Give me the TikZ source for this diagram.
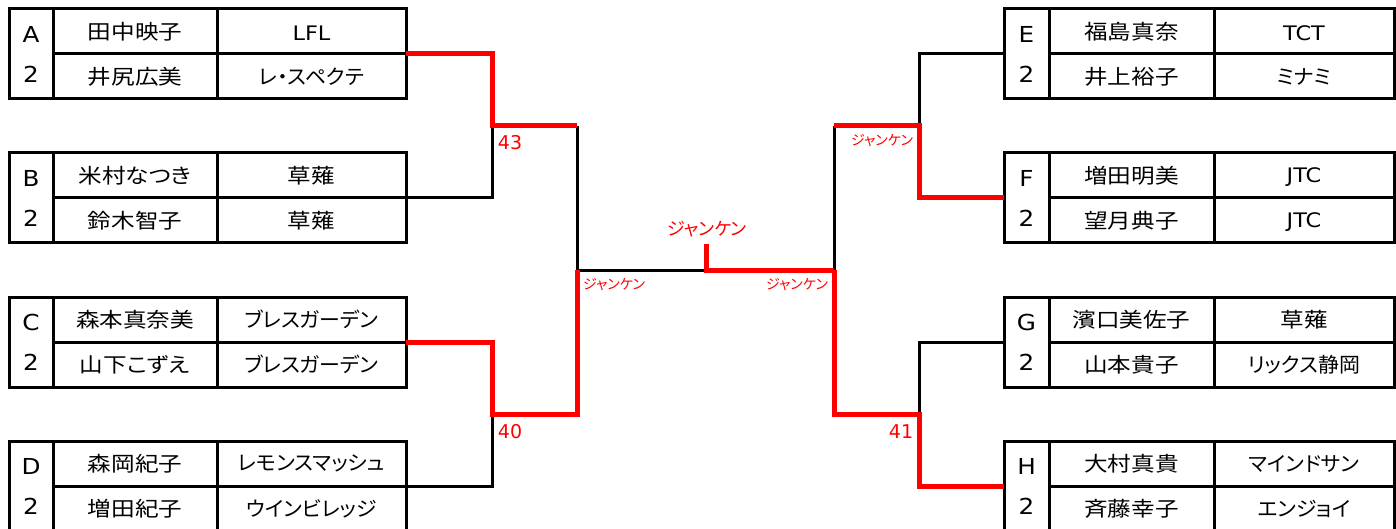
\documentclass[tikz,border=0pt]{standalone}
\usepackage{fontspec}
\newfontfamily\jpfont[FakeStretch=1.15,RawFeature=+palt]{Noto Sans CJK JP}
\newfontfamily\teamfont[FakeStretch=1.02,RawFeature=+palt]{Noto Sans CJK JP}
\newfontfamily\redjp[RawFeature=+palt]{Noto Sans CJK JP}
\newfontfamily\latfont[FakeStretch=1.12]{DejaVu Sans}
\newfontfamily\numfont{DejaVu Sans}
\tikzset{
  cell/.style={draw=black, line width=3pt, anchor=north west, outer sep=0pt, inner sep=0pt, minimum height=45pt},
  lettercell/.style={draw=black, line width=3pt, anchor=north west, outer sep=0pt, inner sep=0pt, minimum height=90pt, align=center, font=\latfont\fontsize{22}{40}\selectfont},
  jptext/.style={font=\jpfont\fontsize{20.5}{24}\selectfont},
  teamtext/.style={font=\teamfont\fontsize{20.5}{24}\selectfont},
  lattext/.style={font=\latfont\fontsize{20}{24}\selectfont, yshift=-2pt},
  wire/.style={draw=black, line width=3pt, line join=miter},
  win/.style={draw=red, line width=5pt, line join=miter},
  score/.style={text=red, inner sep=0pt, font=\numfont\fontsize{19}{22}\selectfont},
  jkn/.style={text=red, inner sep=0pt, font=\redjp\fontsize{14}{16}\selectfont},
}
\newcommand{\bracketbox}[7]{%
  % #1 name, #2 x, #3 y, #4 letter width, #5 name width, #6 team width, #7 letter
  \node[lettercell, minimum width=#4pt] (#1l) at (#2,#3) {#7\\2};
  \node[cell, minimum width=#5pt] (#1n1) at (#2+#4,#3) {};
  \node[cell, minimum width=#5pt] (#1n2) at (#2+#4,#3+45) {};
  \node[cell, minimum width=#6pt] (#1t1) at (#2+#4+#5,#3) {};
  \node[cell, minimum width=#6pt] (#1t2) at (#2+#4+#5,#3+45) {};
  \coordinate (#1R) at (#1t1.south east);
  \coordinate (#1L) at (#1l.west |- #1n1.south);
}
\begin{document}
\begin{tikzpicture}[x=1pt,y=-1pt]
\useasboundingbox (0,0) rectangle (1396,529);
% left tables
\bracketbox{A}{9}{9}{44}{164}{189}{A}
\bracketbox{B}{9}{153}{44}{164}{189}{B}
\bracketbox{C}{9}{297}{44}{164}{189}{C}
\bracketbox{D}{9}{441}{44}{164}{189}{D}
% right tables
\bracketbox{E}{1004}{9}{45}{165}{180}{E}
\bracketbox{F}{1004}{153}{45}{165}{180}{F}
\bracketbox{G}{1004}{297}{45}{165}{180}{G}
\bracketbox{H}{1004}{441}{45}{165}{180}{H}
% texts
\node[jptext] at (An1) {田中映子};   \node[lattext] at (At1) {LFL};
\node[jptext] at (An2) {井尻広美};   \node[teamtext] at (At2) {レ・スペクテ};
\node[jptext] at (Bn1) {米村なつき}; \node[jptext] at (Bt1) {草薙};
\node[jptext] at (Bn2) {鈴木智子};   \node[jptext] at (Bt2) {草薙};
\node[jptext] at (Cn1) {森本真奈美}; \node[teamtext] at (Ct1) {ブレスガーデン};
\node[jptext] at (Cn2) {山下こずえ}; \node[teamtext] at (Ct2) {ブレスガーデン};
\node[jptext] at (Dn1) {森岡紀子};   \node[teamtext] at (Dt1) {レモンスマッシュ};
\node[jptext] at (Dn2) {増田紀子};   \node[teamtext] at (Dt2) {ウインビレッジ};
\node[jptext] at (En1) {福島真奈};   \node[lattext] at (Et1) {TCT};
\node[jptext] at (En2) {井上裕子};   \node[teamtext] at (Et2) {ミナミ};
\node[jptext] at (Fn1) {増田明美};   \node[lattext] at (Ft1) {JTC};
\node[jptext] at (Fn2) {望月典子};   \node[lattext] at (Ft2) {JTC};
\node[jptext] at (Gn1) {濱口美佐子}; \node[jptext] at (Gt1) {草薙};
\node[jptext] at (Gn2) {山本貴子};   \node[teamtext] at (Gt2) {リックス静岡};
\node[jptext] at (Hn1) {大村真貴};   \node[teamtext] at (Ht1) {マインドサン};
\node[jptext] at (Hn2) {斉藤幸子};   \node[teamtext] at (Ht2) {エンジョイ};
% junctions
\coordinate (jAB) at (492,126);
\coordinate (jCD) at (492,414);
\coordinate (jL) at (577,270);
\coordinate (jEF) at (919,126);
\coordinate (jGH) at (919,414);
\coordinate (jR) at (834,270);
\coordinate (top) at (706,270);
\coordinate (stub) at (706,244);
% black wires
\draw[wire] (BR) -| (jAB);
\draw[wire] (DR) -| (jCD);
\draw[wire] (jAB -| jL) -- (jL) -- (top);
\draw[wire] (jR) -- (jR |- jEF);
\draw[wire] (EL) -| (jEF);
\draw[wire] (GL) -| (jGH);
% red wires
\draw[win] (AR) -| (jAB) -- (jAB -| jL);
\draw[win] (CR) -| (jCD) -| (jL);
\draw[win] (stub) -- (top) -- (jR);
\draw[win] (jR) |- (jGH) |- (HL);
\draw[win] (jR |- jEF) -- (jEF) |- (FL);
% labels
\node[score] at (510,143) {43};
\node[score] at (510,432) {40};
\node[score] at (901,432) {41};
\node[jkn] at (882,141) {ジャンケン};
\node[jkn] at (614,285) {ジャンケン};
\node[jkn] at (797,285) {ジャンケン};
\node[jkn, font=\redjp\fontsize{18}{20}\selectfont] at (707,229) {ジャンケン};
\end{tikzpicture}
\end{document}
